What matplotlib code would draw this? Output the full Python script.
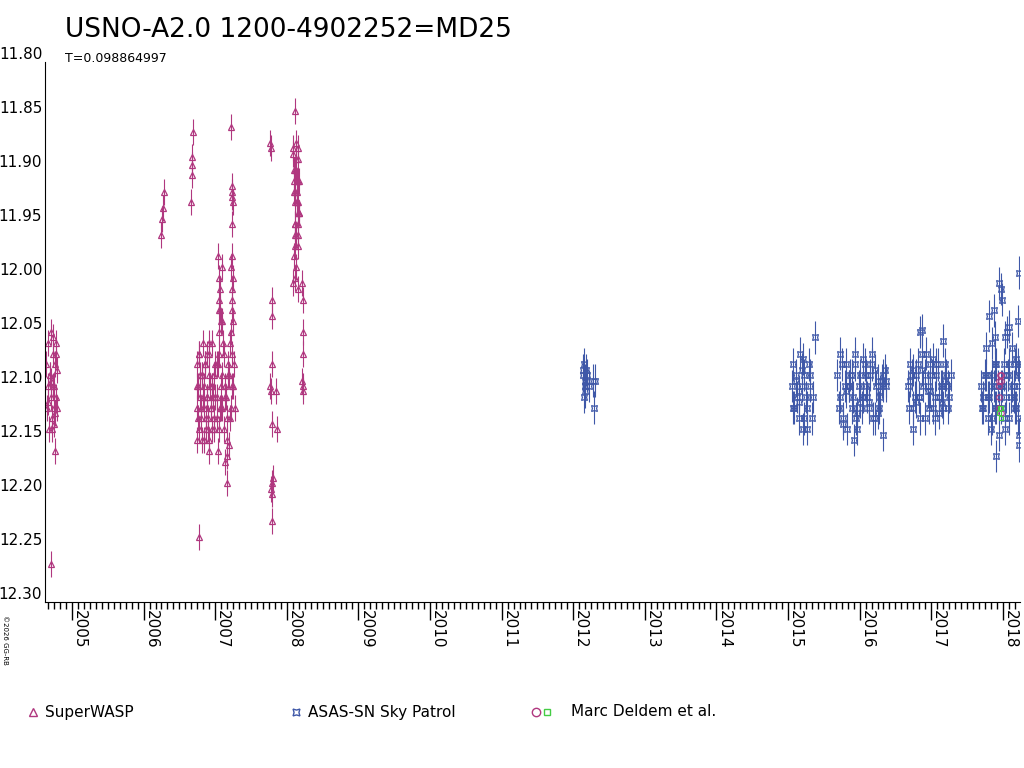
import matplotlib
matplotlib.use("Agg")
import matplotlib.pyplot as plt

PINK = "#b0377f"
BLUE = "#3f58a8"

# SuperWASP clusters (decimal year, mag)
sw_t = [2004.64,2004.65,2004.66,2004.67,2004.68,2004.69,2004.70,2004.71,2004.72,2004.73,2004.74,2004.75,2004.76,2004.77,2004.78,2004.69,2004.72,2004.75,2004.77,2004.79,2004.70,2004.76,2004.73,2004.75,2004.71,2004.76,2004.79,2004.66,
        2006.25,2006.26,2006.27,2006.28,
        2006.66,2006.67,2006.67,2006.68,2006.69,
        2006.74,2006.75,2006.76,2006.77,2006.78,2006.79,2006.80,2006.81,2006.82,2006.83,2006.84,2006.85,2006.86,2006.87,2006.88,2006.89,2006.90,2006.91,2006.92,2006.93,2006.94,2006.95,2006.96,2006.97,
        2006.74,2006.76,2006.78,2006.80,2006.82,2006.84,2006.86,2006.88,2006.90,2006.92,2006.94,2006.96,2006.98,2007.00,2007.02,2007.04,2007.06,2007.08,2007.10,2007.12,2007.14,2007.16,2007.18,
        2006.75,2006.79,2006.83,2006.87,2006.91,2006.95,2006.99,2007.03,2007.07,2007.11,2007.15,2007.19,2007.21,2007.23,2007.25,2007.27,
        2006.98,2007.00,2007.02,2007.04,2007.06,2007.08,2007.10,2007.12,2007.14,2007.16,2007.18,2007.20,2007.22,2007.24,2007.26,
        2007.04,2007.05,2007.06,2007.07,2007.08,2007.09,2007.05,2007.07,2007.09,2007.06,
        2007.22,2007.23,2007.24,2007.25,2007.23,2007.24,2007.22,2007.25,2007.23,2007.24,2007.23,2007.25,2007.22,2007.24,
        2007.14,2007.17,2007.16,2007.19,2006.91,2006.77,
        2007.77,2007.78,2007.79,2007.79,2007.80,2007.77,2007.78,2007.80,2007.81,2007.79,2007.78,2007.80,2007.79,2007.87,2007.85,
        2008.09,2008.10,2008.11,2008.12,2008.13,2008.14,2008.15,2008.16,2008.17,2008.09,2008.10,2008.11,2008.12,2008.13,2008.14,2008.15,2008.16,2008.17,
        2008.10,2008.12,2008.14,2008.16,2008.11,2008.13,2008.15,2008.10,2008.12,2008.14,2008.16,2008.11,2008.13,2008.15,2008.17,
        2008.11,2008.09,2008.13,2008.15,2008.21,2008.22,2008.23,2008.22,2008.23,2008.21,2008.22]
sw_m = [12.08,12.12,12.06,12.10,12.14,12.09,12.05,12.11,12.13,12.07,12.10,12.12,12.08,12.06,12.11,12.09,12.14,12.10,12.07,12.12,12.265,12.16,12.055,12.135,12.095,12.125,12.085,12.115,
        11.96,11.945,11.935,11.92,
        11.93,11.905,11.895,11.888,11.865,
        12.08,12.12,12.10,12.14,12.07,12.11,12.13,12.09,12.15,12.06,12.12,12.10,12.08,12.14,12.11,12.07,12.13,12.09,12.15,12.10,12.12,12.06,12.14,12.11,
        12.10,12.13,12.07,12.12,12.09,12.15,12.08,12.11,12.14,12.06,12.12,12.10,12.13,12.08,12.11,12.16,12.07,12.12,12.09,12.14,12.10,12.13,12.08,
        12.15,12.09,12.11,12.13,12.07,12.10,12.14,12.08,12.12,12.06,12.11,12.09,12.13,12.07,12.10,12.12,
        12.09,12.11,12.13,12.08,12.14,12.10,12.12,12.07,12.11,12.15,12.09,12.06,12.12,12.10,12.08,
        11.98,12.00,12.02,12.03,12.04,11.99,12.05,12.01,12.04,12.03,
        11.86,11.915,11.92,11.93,11.95,11.98,11.99,12.00,12.01,12.02,12.03,12.04,12.05,11.925,
        12.17,12.165,12.19,12.155,12.16,12.24,
        11.875,11.88,12.02,12.035,12.08,12.10,12.105,12.135,12.185,12.19,12.195,12.20,12.225,12.14,12.105,
        11.88,11.90,11.92,11.95,11.89,11.93,11.96,11.91,11.94,11.885,11.91,11.93,11.97,11.90,11.92,11.95,11.88,11.94,
        11.98,11.96,11.93,11.89,12.00,11.99,11.97,11.92,11.95,11.91,11.94,11.90,11.96,11.93,11.91,
        11.845,12.005,11.875,12.01,12.005,12.02,12.05,12.07,12.10,12.095,12.105]
sw_err = 0.012

# ASAS-SN clusters
as_t = [2012.13,2012.14,2012.15,2012.16,2012.17,2012.18,2012.19,2012.22,2012.27,2012.29,2012.31,2012.15,2012.17,
        2015.05,2015.07,2015.09,2015.11,2015.13,2015.15,2015.17,2015.19,2015.21,2015.23,2015.25,2015.27,2015.29,2015.31,2015.33,2015.35,2015.07,2015.11,2015.15,2015.19,2015.23,2015.27,2015.31,2015.37,2015.15,2015.21,
        2015.69,2015.73,2015.77,2015.81,2015.85,2015.89,2015.93,2015.97,2016.01,2016.05,2016.09,2016.13,2016.17,2016.21,2016.25,2016.29,2016.33,2016.37,
        2015.71,2015.75,2015.79,2015.83,2015.87,2015.91,2015.95,2015.99,2016.03,2016.07,2016.11,2016.15,2016.19,2016.23,2016.27,2016.31,2016.35,
        2015.73,2015.81,2015.89,2015.97,2016.05,2016.13,2016.21,2016.29,2016.37,2015.77,2015.85,2015.93,2016.01,2016.09,2016.17,2016.25,2016.33,2015.92,2016.32,
        2016.67,2016.71,2016.75,2016.79,2016.83,2016.87,2016.91,2016.95,2016.99,2017.03,2017.07,2017.11,2017.15,2017.19,2017.23,2017.27,
        2016.69,2016.73,2016.77,2016.81,2016.85,2016.89,2016.93,2016.97,2017.01,2017.05,2017.09,2017.13,2017.17,2017.21,2017.25,
        2016.71,2016.79,2016.87,2016.95,2017.03,2017.11,2017.19,2016.75,2016.83,2016.91,2016.99,2017.07,2017.15,2017.23,2016.85,2016.87,2017.17,2017.05,2016.75,
        2017.69,2017.73,2017.77,2017.81,2017.85,2017.89,2017.93,2017.97,2018.01,2018.05,2018.09,2018.13,2018.17,2018.21,2018.23,
        2017.71,2017.75,2017.79,2017.83,2017.87,2017.91,2017.95,2017.99,2018.03,2018.07,2018.11,2018.15,2018.19,2018.22,
        2017.73,2017.79,2017.85,2017.91,2017.97,2018.03,2018.09,2018.15,2018.21,2017.77,2017.83,2017.89,2017.95,
        2017.81,2017.87,2017.85,2017.94,2017.97,2018.03,2018.06,2018.13,2018.17,2018.21,2018.22,2018.23,2018.23,2017.91,2017.99,2018.09,2018.19,2017.89,2018.01]
as_m = [12.085,12.09,12.08,12.10,12.095,12.085,12.09,12.10,12.095,12.12,12.095,12.11,12.105,
        12.10,12.08,12.12,12.09,12.11,12.13,12.07,12.10,12.14,12.09,12.11,12.12,12.08,12.10,12.13,12.11,12.12,12.095,12.105,12.085,12.13,12.14,12.09,12.055,12.115,12.075,
        12.09,12.11,12.13,12.08,12.10,12.12,12.07,12.14,12.09,12.11,12.10,12.12,12.08,12.13,12.095,12.11,12.09,12.10,
        12.12,12.08,12.10,12.14,12.09,12.11,12.13,12.10,12.12,12.08,12.11,12.09,12.13,12.10,12.12,12.095,12.085,
        12.07,12.105,12.09,12.125,12.075,12.115,12.085,12.105,12.095,12.135,12.10,12.08,12.115,12.09,12.07,12.125,12.10,12.15,12.145,
        12.10,12.08,12.12,12.09,12.11,12.07,12.13,12.10,12.08,12.12,12.09,12.11,12.10,12.08,12.12,12.09,
        12.12,12.09,12.11,12.08,12.13,12.10,12.07,12.12,12.09,12.11,12.08,12.10,12.12,12.09,12.11,
        12.095,12.115,12.085,12.105,12.075,12.125,12.095,12.085,12.11,12.09,12.105,12.08,12.115,12.10,12.05,12.048,12.058,12.13,12.14,
        12.10,12.12,12.09,12.11,12.13,12.08,12.10,12.12,12.09,12.11,12.13,12.10,12.12,12.08,12.10,
        12.12,12.09,12.11,12.14,12.10,12.08,12.12,12.10,12.13,12.09,12.11,12.10,12.12,12.09,
        12.11,12.13,12.09,12.12,12.10,12.14,12.08,12.11,12.13,12.065,12.10,12.12,12.145,
        12.035,12.03,12.06,12.005,12.01,12.055,12.05,12.065,12.08,12.04,12.145,12.155,11.995,12.165,12.02,12.045,12.075,12.055,12.08]
as_err = 0.015

# Marc Deldem et al.
md_t = [2017.94,2017.95,2017.96,2017.97,2017.98,2017.94,2017.95,2017.97]
md_m = [12.095,12.10,12.09,12.09,12.095,12.11,12.12,12.125]
md_sq_t = [2017.95,2017.96,2017.97,2017.98]
md_sq_m = [12.125,12.12,12.13,12.12]

years = list(range(2005, 2019))

fig = plt.figure(figsize=(10.24, 7.68), dpi=100)
ax = fig.add_axes([45/1024, 1-602/768, 975/1024, 540/768])
ax.errorbar(sw_t, sw_m, yerr=sw_err, fmt='none', ecolor=PINK, elinewidth=0.8, zorder=1)
ax.plot(sw_t, sw_m, ls='none', marker='^', ms=5, mfc='none', mec=PINK, mew=0.9, zorder=2)
ax.errorbar(as_t, as_m, yerr=as_err, fmt='none', ecolor=BLUE, elinewidth=0.8, zorder=1)
ax.plot(as_t, as_m, ls='none', marker=(4, 1, 45), ms=6, mfc='none', mec=BLUE, mew=0.9, zorder=2)
ax.plot(md_t, md_m, ls='none', marker='o', ms=4, mfc='none', mec=PINK, mew=0.8, zorder=3)
ax.plot(md_sq_t, md_sq_m, ls='none', marker='s', ms=3, mfc='none', mec='#44cc44', mew=0.8, zorder=3)

ax.set_xlim(2004.623, 2018.24)
ax.set_ylim(12.30, 11.80)
ax.set_yticks([11.80 + 0.05*i for i in range(11)])
ax.set_yticklabels([f"{11.80 + 0.05*i:.2f}" for i in range(11)], fontsize=11)
ax.set_xticks(years)
ax.set_xticklabels([str(y) for y in years], rotation=-90, fontsize=11, ha='left')
ax.set_xticks([y + m/12 for y in range(2004, 2019) for m in range(12) if 2004.623 < y + m/12 < 2018.24], minor=True)
ax.tick_params(axis='x', which='major', direction='out', length=13, width=1, pad=-7)
ax.tick_params(axis='x', which='minor', direction='out', length=5, width=1)
ax.tick_params(axis='y', which='major', length=0, pad=2)
for s in ['top', 'right']:
    ax.spines[s].set_visible(False)
for lab in ax.get_yticklabels():
    lab.set_verticalalignment('bottom')

fig.text(65/1024, 1-30/768, "USNO-A2.0 1200-4902252=MD25", fontsize=19, va='center')
fig.text(65/1024, 1-59/768, "T=0.098864997", fontsize=9, va='center')
fig.text(5/1024, 1-640/768, "©2026 GG-RB", fontsize=5, rotation=-90, va='center', ha='center')

lg = fig.add_axes([0, 0, 1, 1], facecolor='none')
lg.set_axis_off(); lg.set_xlim(0, 1024); lg.set_ylim(768, 0)
lg.plot([33], [712], marker='^', ms=6, mfc='none', mec=PINK, ls='none')
lg.text(45, 712, "SuperWASP", fontsize=11, va='center')
lg.plot([296], [712], marker=(4, 1, 45), ms=7, mfc='none', mec=BLUE, ls='none')
lg.text(308, 712, "ASAS-SN Sky Patrol", fontsize=11, va='center')
lg.plot([536], [712], marker='o', ms=6, mfc='none', mec=PINK, ls='none')
lg.plot([547], [712], marker='s', ms=5, mfc='none', mec='#44cc44', ls='none')
lg.text(571, 712, "Marc Deldem et al.", fontsize=11, va='center')

fig.savefig("out.png", dpi=100)
